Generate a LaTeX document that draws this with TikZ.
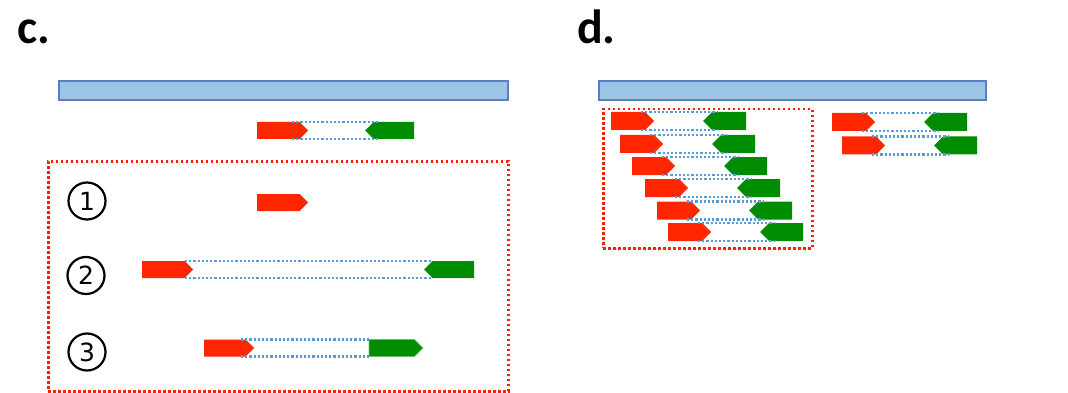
\documentclass[tikz,border=0pt]{standalone}
\usepackage{fontspec}
\setmainfont{Carlito}
\newfontfamily\numfont{DejaVu Sans}
\usetikzlibrary{shapes.symbols}
\definecolor{arrred}{RGB}{255,38,0}
\definecolor{arrgreen}{RGB}{0,140,0}
\definecolor{dotblue}{RGB}{91,155,213}
\definecolor{barfill}{RGB}{157,195,230}
\definecolor{barline}{RGB}{84,130,190}
\definecolor{boxred}{RGB}{255,30,0}
\begin{document}
\begin{tikzpicture}[x=1pt,y=-1pt,
  arrowbase/.style={signal, signal pointer angle=90, draw=none, inner sep=0pt, outer sep=0pt},
  rarr/.style={arrowbase, signal to=east, fill=arrred, minimum height=17pt, minimum width=51pt, anchor=west},
  garr/.style={arrowbase, signal to=west, fill=arrgreen, minimum height=17pt, minimum width=50pt, anchor=east},
  rarrd/.style={rarr, minimum height=18pt, minimum width=43pt},
  garrd/.style={garr, minimum height=18pt, minimum width=43pt},
  link/.style={draw=dotblue, line width=2.4pt, dash pattern=on 2.2pt off 2pt},
  bar/.style={draw=barline, fill=barfill, line width=1.8pt},
  redbox/.style={draw=boxred, line width=2.5pt, dash pattern=on 2.4pt off 2.6pt},
  panel/.style={font=\bfseries\fontsize{48}{48}\selectfont, anchor=base west, inner sep=0pt},
  circnum/.style={circle, draw=black, line width=2.2pt, minimum size=37pt, inner sep=0pt, font=\numfont\fontsize{25}{25}\selectfont}]
\useasboundingbox (0,0) rectangle (1068,393);

% ---------- panel c ----------
\node[panel] (lc) at (17,44) {c.};
\node[bar, minimum width=449pt, minimum height=19pt, inner sep=0pt, anchor=north west] (barc) at (58,80) {};

\node[rarr] (r0) at (257,130.5) {};
\node[garr, minimum width=49pt] (g0) at (414,130.5) {};
\draw[link] ([xshift=-16pt]r0.east |- r0.north) -- ([xshift=14pt]g0.west |- g0.north);
\draw[link] ([xshift=-16pt]r0.east |- r0.south) -- ([xshift=14pt]g0.west |- g0.south);

\node[redbox, minimum width=460pt, minimum height=230pt, inner sep=0pt, anchor=north west] (boxc) at (47,160) {};

\node[circnum] (n1) at (87,201) {1};
\node[circnum] (n2) at (86,275.5) {2};
\node[circnum] (n3) at (87,352) {3};

\node[rarr] (r1) at (257,202.5) {};

\node[rarr] (r2) at (142,269.5) {};
\node[garr] (g2) at (474,269.5) {};
\draw[link] ([xshift=-8pt]r2.east |- r2.north) -- ([xshift=8pt]g2.west |- g2.north);
\draw[link] ([xshift=-8pt]r2.east |- r2.south) -- ([xshift=8pt]g2.west |- g2.south);

\node[rarr, minimum width=50pt] (r3) at (204,348) {};
\node[arrowbase, signal to=east, fill=arrgreen, draw=arrgreen!55, line width=0.8pt, minimum height=17pt, minimum width=54pt, anchor=west] (g3) at (369,348) {};
\draw[link] ([xshift=-13pt]r3.east |- r3.north) -- ([xshift=1pt]g3.west |- g3.north);
\draw[link] ([xshift=-13pt]r3.east |- r3.south) -- ([xshift=1pt]g3.west |- g3.south);

% ---------- panel d ----------
\node[panel] (ld) at (577,44) {d.};
\node[bar, minimum width=387pt, minimum height=19pt, inner sep=0pt, anchor=north west] (bard) at (598,80) {};
\node[redbox, minimum width=209pt, minimum height=139pt, inner sep=0pt, anchor=north west] (boxd) at (602,108) {};

\foreach \i/\rx/\yy/\gx in {1/611/121/746, 2/620/144/755, 3/632/166/767, 4/645/188/780, 5/657/210.5/792, 6/668/232/803, 7/832/122/967, 8/842/145.5/977} {
  \node[rarrd] (dr\i) at (\rx,\yy) {};
  \node[garrd] (dg\i) at (\gx,\yy) {};
  \draw[link] ([xshift=-13pt]dr\i.east |- dr\i.north) -- ([xshift=14pt]dg\i.west |- dg\i.north);
  \draw[link] ([xshift=-13pt]dr\i.east |- dr\i.south) -- ([xshift=14pt]dg\i.west |- dg\i.south);
}
\end{tikzpicture}
\end{document}
